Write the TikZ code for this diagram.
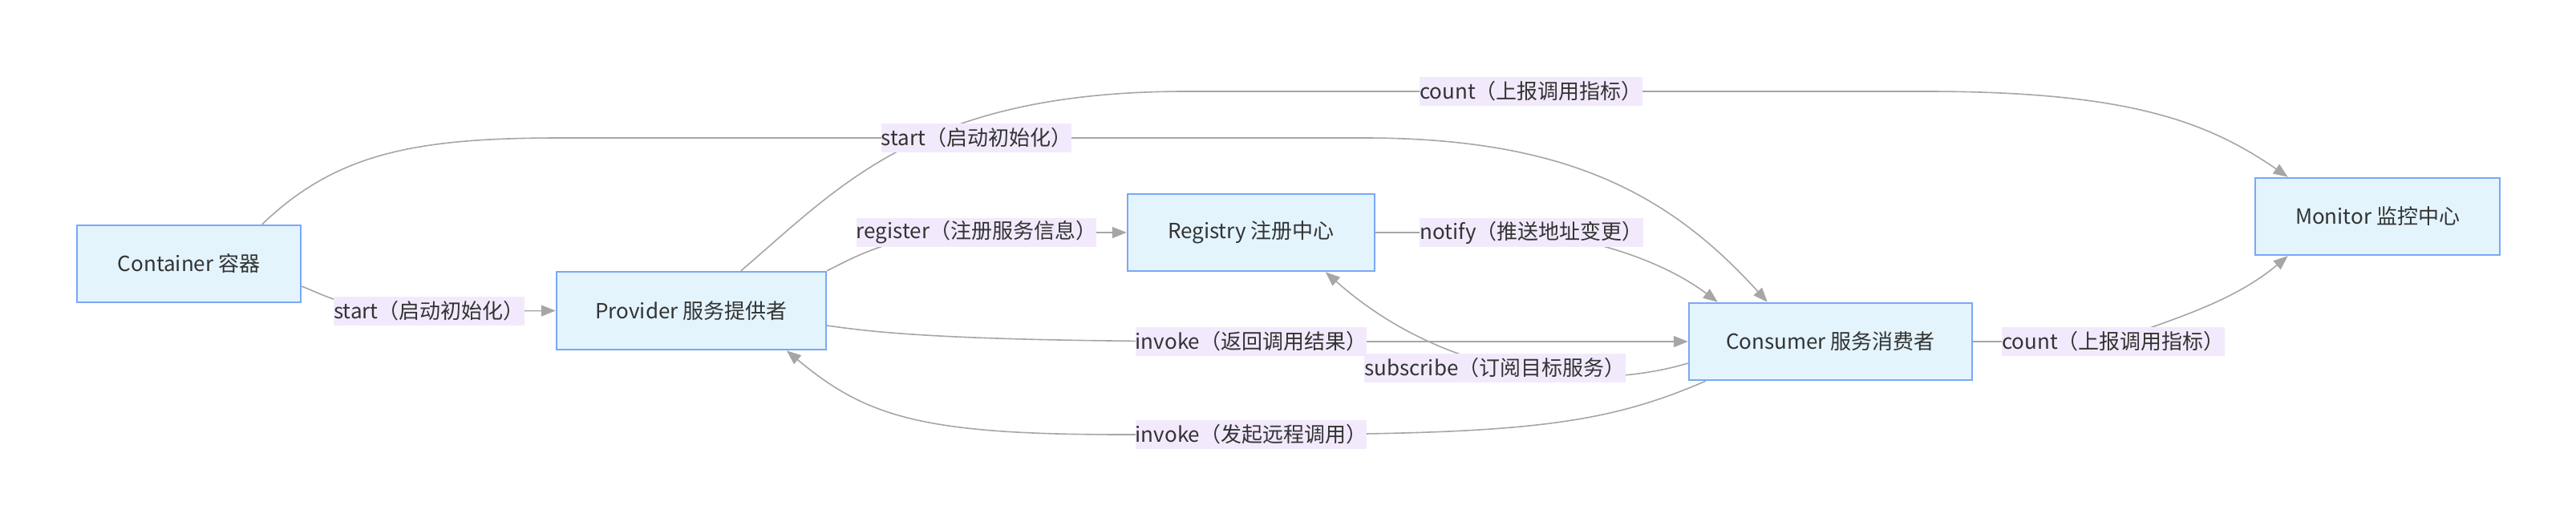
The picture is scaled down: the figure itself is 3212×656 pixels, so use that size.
\documentclass[tikz,border=0pt]{standalone}
\usepackage{fontspec}
\setmainfont{Noto Sans CJK SC}
\usetikzlibrary{arrows.meta,calc}
\definecolor{boxfill}{HTML}{E3F4FD}
\definecolor{boxline}{HTML}{7BA7F7}
\definecolor{lblfill}{HTML}{F2EAFC}
\definecolor{edge}{HTML}{A6A6A6}
\definecolor{txt}{HTML}{333333}
\pgfdeclarelayer{bg}
\pgfsetlayers{bg,main}
\begin{document}
\begin{tikzpicture}[x=0.5pt,y=-0.5pt,
  box/.style={draw=boxline,line width=1.2pt,fill=boxfill,text=txt,font=\fontsize{13}{15}\selectfont,inner sep=0pt},
  lbl/.style={fill=lblfill,text=txt,font=\fontsize{13}{15}\selectfont,inner xsep=0pt,inner ysep=0pt,minimum height=18pt},
  conn/.style={draw=edge,line width=0.8pt},
  arr/.style={conn,-{Triangle[length=9pt,width=7pt,fill=edge]}}]
\useasboundingbox (0,0) rectangle (3212,656);
\node[box,minimum width=139.5pt,minimum height=48pt] (cont) at (235.5,329) {Container 容器};
\node[box,minimum width=168pt,minimum height=48.5pt] (prov) at (862,387.5) {Provider 服务提供者};
\node[box,minimum width=154pt,minimum height=48pt] (reg) at (1560,290) {Registry 注册中心};
\node[box,minimum width=176.5pt,minimum height=48pt] (cons) at (2282.5,426) {Consumer 服务消费者};
\node[box,minimum width=152.5pt,minimum height=48pt] (mon) at (2964.5,270) {Monitor 监控中心};

\node[lbl] (l1) at (535,388) {start（启动初始化）};
\node[lbl] (l2) at (1217.5,172) {start（启动初始化）};
\node[lbl] (l3) at (1909,114) {count（上报调用指标）};
\node[lbl] (l4) at (1217.5,290) {register（注册服务信息）};
\node[lbl] (l5) at (1909.5,290) {notify（推送地址变更）};
\node[lbl] (l6) at (1560,426) {invoke（返回调用结果）};
\node[lbl] (l7) at (1864,459) {subscribe（订阅目标服务）};
\node[lbl] (l8) at (1560,542) {invoke（发起远程调用）};
\node[lbl] (l9) at (2635,426) {count（上报调用指标）};

\begin{pgfonlayer}{bg}
\draw[arr] (cont.east |- 0,357) .. controls (420,375) and (440,388) .. (l1.center) -- (prov.west);
\draw[arr] ($(cont.north west)+(232,0)$) .. controls (420,190) and (520,172) .. (700,172) -- (l2.center) -- (1700,172) .. controls (1950,172) and (2080,240) .. ($(cons.north west)+(99,0)$);
\draw[arr] ($(prov.north west)+(231,0)$) .. controls (1050,230) and (1150,114) .. (1480,114) -- (l3.center) -- (2400,114) .. controls (2650,114) and (2750,150) .. ($(mon.north west)+(42,0)$);
\draw[arr] (prov.north east) .. controls (1070,318) and (1120,290) .. (l4.center) -- (reg.west);
\draw[arr] (reg.east) -- (l5.center) .. controls (2000,300) and (2080,330) .. ($(cons.north west)+(37,0)$);
\draw[arr] (prov.east |- 0,406) .. controls (1100,416) and (1200,426) .. (l6.center) -- (cons.west);
\draw[arr] (cons.west |- 0,453) .. controls (1980,490) and (1800,470) .. ($(reg.south west)+(248,0)$);
\draw[arr] ($(cons.south west)+(22,0)$) .. controls (2000,530) and (1900,542) .. (l8.center) -- (1400,542) .. controls (1150,542) and (1080,520) .. ($(prov.south west)+(288,0)$);
\draw[arr] (cons.east) -- (l9.center) .. controls (2700,400) and (2780,380) .. ($(mon.south west)+(42,0)$);
\end{pgfonlayer}
\end{tikzpicture}
\end{document}
